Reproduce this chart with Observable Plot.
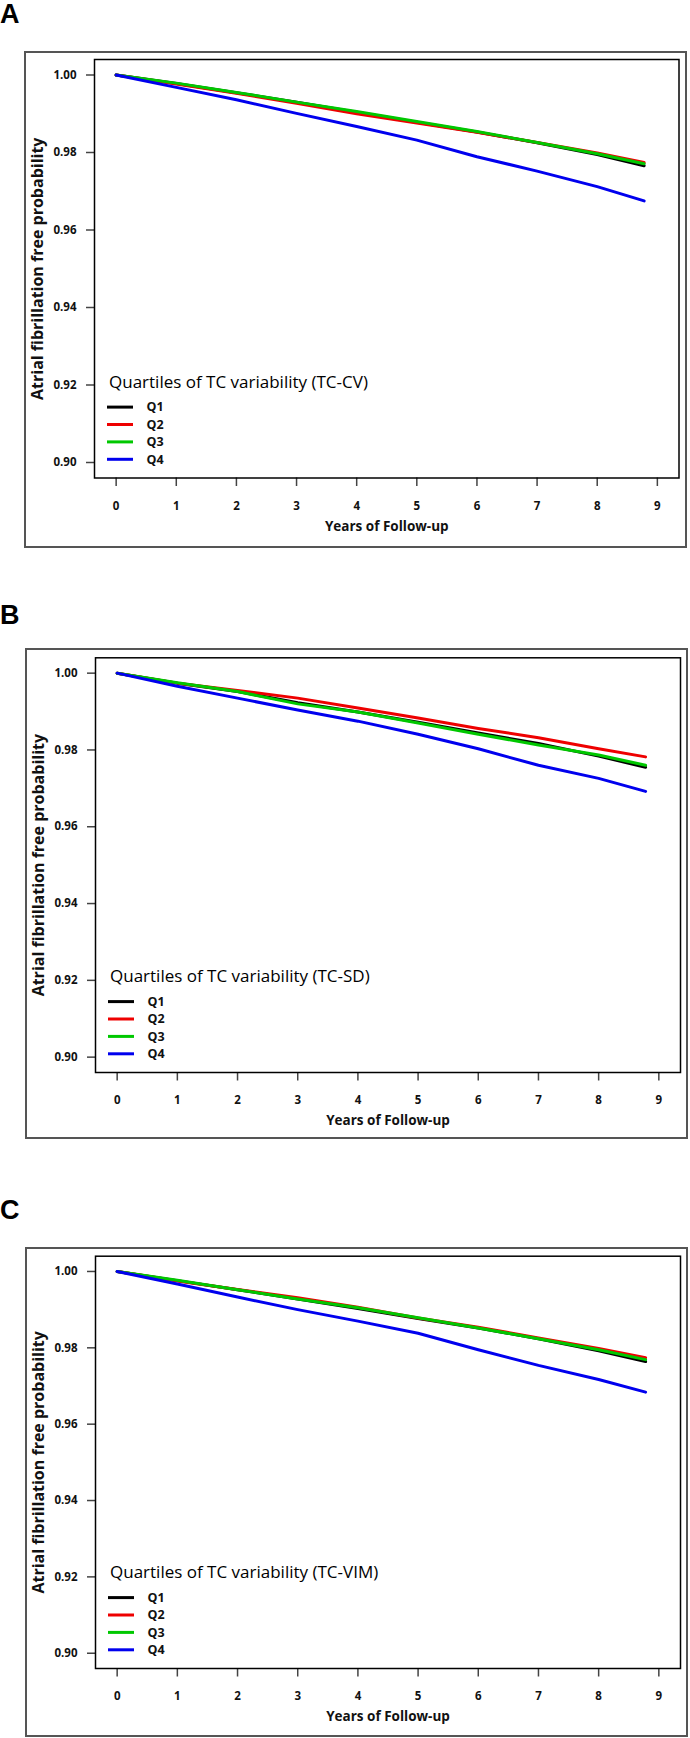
<!DOCTYPE html>
<html><head><meta charset="utf-8">
<script src="https://cdn.jsdelivr.net/npm/d3@7"></script>
<script src="https://cdn.jsdelivr.net/npm/@observablehq/plot@0.6"></script>
<style>
body{margin:0;background:#fff;width:690px;height:1738px;position:relative;overflow:hidden;font-family:"Open Sans",sans-serif;}
.letter{position:absolute;left:0;font:bold 27px "Liberation Sans",Arial,sans-serif;line-height:1;color:#000;}
.box{position:absolute;border:2px solid #555;box-sizing:border-box;pointer-events:none;}
.plot{position:absolute;}
.plot svg{overflow:visible;}
.plot g[aria-label$="-axis tick"]{stroke:#444;stroke-width:1.5px;}
</style></head><body>
<script>
// ---- data ----
const years = [0, 1, 2, 3, 4, 5, 6, 7, 8, 8.78];
const quartiles = ["Q1", "Q2", "Q3", "Q4"];
const colors = ["#000000", "#ee0000", "#00c800", "#0000ee"];
const xTicks = [0, 1, 2, 3, 4, 5, 6, 7, 8, 9];
const yTicks = [0.90, 0.92, 0.94, 0.96, 0.98, 1.00];
const xDomain = [-0.36, 9.36];
const yDomain = [0.896, 1.004];
const xTitle = "Years of Follow-up";
const yTitle = "Atrial fibrillation free probability";
const panelLetters = ["A", "B", "C"];
const legendTitles = [
  "Quartiles of TC variability (TC-CV)",
  "Quartiles of TC variability (TC-SD)",
  "Quartiles of TC variability (TC-VIM)"
];

// Panel A (TC-CV)
const A_Q1 = [1, 0.9978, 0.9954, 0.9930, 0.9904, 0.9878, 0.9853, 0.9825, 0.9795, 0.9766];
const A_Q2 = [1, 0.9977, 0.9953, 0.9927, 0.9900, 0.9876, 0.9852, 0.9826, 0.9799, 0.9774];
const A_Q3 = [1, 0.9979, 0.9955, 0.9930, 0.9906, 0.9880, 0.9854, 0.9826, 0.9797, 0.9771];
const A_Q4 = [1, 0.9968, 0.9936, 0.9901, 0.9867, 0.9832, 0.9789, 0.9752, 0.9712, 0.9675];
// Panel B (TC-SD)
const B_Q1 = [1, 0.9974, 0.9952, 0.9923, 0.9899, 0.9872, 0.9844, 0.9817, 0.9784, 0.9755];
const B_Q2 = [1, 0.9974, 0.9955, 0.9935, 0.9909, 0.9883, 0.9856, 0.9832, 0.9803, 0.9782];
const B_Q3 = [1, 0.9975, 0.9952, 0.9920, 0.9899, 0.9870, 0.9841, 0.9813, 0.9787, 0.9760];
const B_Q4 = [1, 0.9966, 0.9935, 0.9904, 0.9875, 0.9841, 0.9803, 0.9760, 0.9726, 0.9692];
// Panel C (TC-VIM)
const C_Q1 = [1, 0.9976, 0.9952, 0.9928, 0.9903, 0.9877, 0.9852, 0.9824, 0.9792, 0.9764];
const C_Q2 = [1, 0.9975, 0.9953, 0.9931, 0.9906, 0.9878, 0.9854, 0.9826, 0.9798, 0.9774];
const C_Q3 = [1, 0.9977, 0.9952, 0.9928, 0.9905, 0.9879, 0.9852, 0.9824, 0.9795, 0.9769];
const C_Q4 = [1, 0.9967, 0.9933, 0.9900, 0.9870, 0.9838, 0.9795, 0.9754, 0.9717, 0.9684];

// ---- layout ----
const panels = [
  {series: [A_Q1, A_Q2, A_Q3, A_Q4], letterTop: 1,    box: {x: 24, y: 51,   w: 663, h: 497}, m: {t: 8,   b: 70.5, l: 70, r: 8.5}},
  {series: [B_Q1, B_Q2, B_Q3, B_Q4], letterTop: 602,  box: {x: 25, y: 648,  w: 663, h: 491}, m: {t: 9.3, b: 67,   l: 70, r: 8}},
  {series: [C_Q1, C_Q2, C_Q3, C_Q4], letterTop: 1197, box: {x: 25, y: 1247, w: 663, h: 490}, m: {t: 8.7, b: 69,   l: 70, r: 8}}
];

panels.forEach((p, k) => {
  const letter = document.createElement("div");
  letter.className = "letter";
  letter.style.top = p.letterTop + "px";
  letter.textContent = panelLetters[k];
  document.body.appendChild(letter);

  const data = quartiles.flatMap((q, i) => years.map((t, j) => ({t, s: p.series[i][j], q})));

  const legend = (index, scales, values, dims) => {
    const g = d3.create("svg:g").attr("text-anchor", "start");
    const x0 = dims.marginLeft;
    const yb = dims.height - dims.marginBottom;
    g.append("text")
      .attr("x", x0 + 15).attr("y", yb - 95.5).attr("dy", "0.35em")
      .attr("font-size", 17).attr("font-weight", "normal").attr("fill", "#000")
      .text(legendTitles[k]);
    quartiles.forEach((q, i) => {
      const y = yb - 70.4 + i * 17.4;
      g.append("line")
        .attr("x1", x0 + 13).attr("x2", x0 + 39).attr("y1", y).attr("y2", y)
        .attr("stroke", scales.color(q)).attr("stroke-width", 3);
      g.append("text")
        .attr("x", x0 + 52.5).attr("y", y).attr("dy", "0.35em")
        .attr("font-size", 12.5).attr("font-weight", "bold").attr("fill", "#111")
        .text(q);
    });
    return g.node();
  };

  const chart = Plot.plot({
    width: p.box.w,
    height: p.box.h,
    marginLeft: p.m.l, marginRight: p.m.r, marginTop: p.m.t, marginBottom: p.m.b,
    style: {fontFamily: "'Open Sans', sans-serif", fontSize: "11.5px", fontWeight: "bold", color: "#111", background: "transparent", overflow: "visible"},
    x: {domain: xDomain, ticks: xTicks, tickSize: 8.5, tickPadding: 15, tickFormat: d => String(d), label: null},
    y: {domain: yDomain, ticks: yTicks, tickSize: 8, tickPadding: 10, tickFormat: d3.format(".2f"), label: null},
    color: {domain: quartiles, range: colors},
    marks: [
      Plot.frame({stroke: "#000", strokeWidth: 1.5}),
      Plot.line(data, {x: "t", y: "s", z: "q", stroke: "q", strokeWidth: 3}),
      Plot.text([yTitle], {frameAnchor: "left", rotate: -90, dx: -57, textAnchor: "middle", lineAnchor: "middle", fontSize: 16, fontWeight: "bold", fill: "#111"}),
      Plot.text([xTitle], {frameAnchor: "bottom", dy: 48.5, textAnchor: "middle", lineAnchor: "middle", fontSize: 13.5, fontWeight: "bold", fill: "#111"}),
      legend
    ]
  });
  const wrap = document.createElement("div");
  wrap.className = "plot";
  wrap.style.left = p.box.x + "px";
  wrap.style.top = p.box.y + "px";
  wrap.appendChild(chart);
  document.body.appendChild(wrap);

  const box = document.createElement("div");
  box.className = "box";
  box.style.left = p.box.x + "px";
  box.style.top = p.box.y + "px";
  box.style.width = p.box.w + "px";
  box.style.height = p.box.h + "px";
  document.body.appendChild(box);
});
</script>
</body></html>
